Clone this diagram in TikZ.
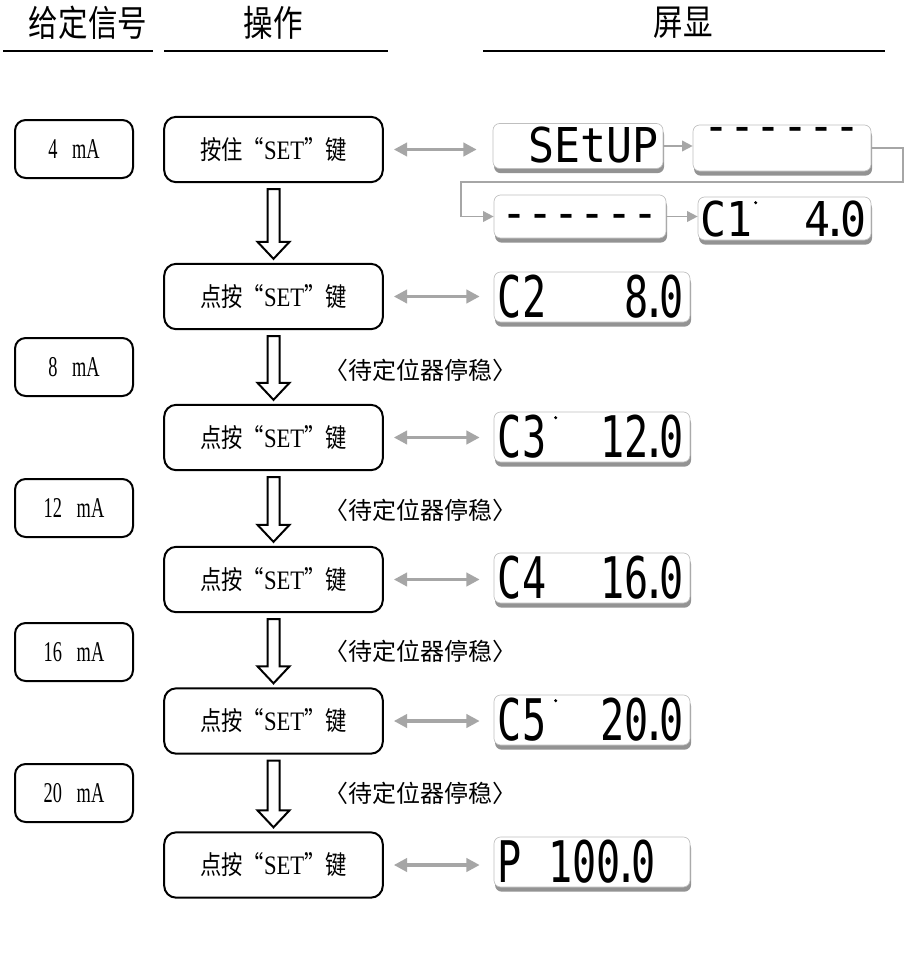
\documentclass[tikz,border=0pt]{standalone}
\usepackage{fontspec}
\setmainfont{Liberation Serif}
\newfontfamily\cjkfont{Noto Sans CJK SC}
\newfontfamily\cjknarrow[FakeStretch=0.82]{Noto Sans CJK SC}
\newfontfamily\sigfont[FakeStretch=0.64]{Liberation Serif}
\newfontfamily\setfont[FakeStretch=0.85]{Liberation Serif}
\newfontfamily\lcdfont[FakeStretch=0.7]{DejaVu Sans Mono}
\newfontfamily\lcdwide[FakeStretch=0.9]{DejaVu Sans Mono}
\usetikzlibrary{arrows.meta,shadows,calc}
\newcommand\lcdpt{\kern-5pt.\kern-5pt}
\newcommand\lcdptw{\kern-6pt.\kern-6pt}
\newcommand\setword{{\setfont\fontsize{20}{21}\selectfont SET}}
\newcommand\hollowarrow[2]{%
  \draw[hollow] ($(#1.south)+(-6,6)$) -- ($(#2.north)+(-6,-21)$) -- ($(#2.north)+(-16,-21)$)
    -- ($(#2.north)+(0,-4)$) -- ($(#2.north)+(16,-21)$) -- ($(#2.north)+(6,-21)$)
    -- ($(#1.south)+(6,6)$) -- cycle;}
\tikzset{
  sig/.style={draw, line width=1.5pt, rounded corners=8pt, minimum width=88.5pt,
    minimum height=43.5pt, inner sep=0pt, font=\sigfont\fontsize{21.5}{23}\selectfont},
  op/.style={draw, line width=1.5pt, rounded corners=9pt, minimum width=164pt,
    minimum height=49pt, inner sep=0pt, font=\cjknarrow\fontsize{19.5}{21}\selectfont},
  hdr/.style={inner sep=0pt, font=\cjknarrow\fontsize{27}{29}\selectfont},
  hline/.style={line width=1.5pt},
  wait/.style={inner sep=0pt, font=\cjkfont\fontsize{18}{20}\selectfont},
  hollow/.style={draw, line width=1.5pt, fill=white, line join=miter},
  garrow/.style={draw=black!35, line width=2.4pt,
    {Triangle[length=10pt,width=10pt]}-{Triangle[length=10pt,width=10pt]}},
  gline/.style={draw=black!35, line width=1.3pt},
  gtip/.style={-{Triangle[length=8pt,width=8pt]}},
  lcd/.style={draw=black!25, line width=0.5pt, fill=white, rounded corners=5pt, inner sep=0pt,
    drop shadow={shadow xshift=0.8pt, shadow yshift=-3.5pt, opacity=0.7, fill=black!60}},
  lcdb/.style={lcd, minimum width=147pt, minimum height=37.5pt},
  lcdtxt/.style={inner sep=0pt, font=\lcdfont\fontsize{43}{43}\selectfont},
  lcdtop/.style={inner sep=0pt, font=\lcdwide\fontsize{36}{36}\selectfont},
  segdot/.style={fill=black, circle, inner sep=0pt, minimum size=2.5pt},
}
\begin{document}
\begin{tikzpicture}[x=0.75pt,y=-0.75pt]
\fill[white] (0,0) rectangle (904,974);
\useasboundingbox (0,0) rectangle (904,974);

% headers
\node[hdr] (h1) at (88,23) {给定信号};
\node[hdr] (h2) at (273,23) {操作};
\node[hdr] (h3) at (683,23) {屏显};
\draw[hline] (3,51) -- (153,51);
\draw[hline] (164,51) -- (388,51);
\draw[hline] (483,51) -- (885,51);

% signal boxes
\node[sig] (s1) at (74,149) {4\hspace{11pt}mA};
\node[sig] (s2) at (74,367) {8\hspace{11pt}mA};
\node[sig] (s3) at (74,508) {12\hspace{11pt}mA};
\node[sig] (s4) at (74,652) {16\hspace{11pt}mA};
\node[sig] (s5) at (74,793) {20\hspace{11pt}mA};

% operation boxes
\node[op] (o1) at (273.5,149.5) {按住“\setword”键};
\node[op] (o2) at (273.5,296.5) {点按“\setword”键};
\node[op] (o3) at (273.5,437.5) {点按“\setword”键};
\node[op] (o4) at (273.5,579.5) {点按“\setword”键};
\node[op] (o5) at (273.5,721) {点按“\setword”键};
\node[op] (o6) at (273.5,865) {点按“\setword”键};

% hollow arrows
\hollowarrow{o1}{o2}
\hollowarrow{o2}{o3}
\hollowarrow{o3}{o4}
\hollowarrow{o4}{o5}
\hollowarrow{o5}{o6}

% waiting texts
\node[wait] (w1) at (420,370) {〈待定位器停稳〉};
\node[wait] (w2) at (420,510) {〈待定位器停稳〉};
\node[wait] (w3) at (420,651) {〈待定位器停稳〉};
\node[wait] (w4) at (420,793) {〈待定位器停稳〉};

% displays, top group
\node[lcd, minimum width=127.5pt, minimum height=33.75pt] (d1) at (578,146) {};
\node[lcd, minimum width=133.5pt, minimum height=34.5pt] (d2) at (782,148) {};
\node[lcd, minimum width=129pt, minimum height=32.25pt] (d3) at (580,216.5) {};
\node[lcd, minimum width=129.75pt, minimum height=32.25pt] (d4) at (784.5,218.5) {};
\node[lcdtop, anchor=base east] (t1) at ($(d1.south east)+(-5,-6)$) {SEtUP};
\node[lcdtop, anchor=base] (t2) at ($(d2.north)+(0,18)$) {------};
\node[lcdtop, anchor=base] (t3) at ($(d3.north)+(0,35)$) {------};
\node[lcdtop, anchor=base west] (t4a) at ($(d4.south west)+(3,-4)$) {C1};
\node[lcdtop, anchor=base east] (t4b) at ($(d4.south east)+(-5,-4)$) {4\lcdptw0};
\node[segdot] (p4) at ($(d4.north west)+(58,6)$) {};

% displays, lower
\node[lcdb] (d5) at (592,297) {};
\node[lcdb] (d6) at (592,437) {};
\node[lcdb] (d7) at (592,578) {};
\node[lcdb] (d8) at (592,720) {};
\node[lcdb] (d9) at (592,862) {};
\node[lcdtxt, anchor=base west] (t5a) at ($(d5.south west)+(4,-5)$) {C2};
\node[lcdtxt, anchor=base east] (t5b) at ($(d5.south east)+(-6,-5)$) {8\lcdpt0};
\node[lcdtxt, anchor=base west] (t6a) at ($(d6.south west)+(4,-5)$) {C3};
\node[lcdtxt, anchor=base east] (t6b) at ($(d6.south east)+(-6,-5)$) {12\lcdpt0};
\node[segdot] (p6) at ($(d6.north west)+(62,6)$) {};
\node[lcdtxt, anchor=base west] (t7a) at ($(d7.south west)+(4,-5)$) {C4};
\node[lcdtxt, anchor=base east] (t7b) at ($(d7.south east)+(-6,-5)$) {16\lcdpt0};
\node[lcdtxt, anchor=base west] (t8a) at ($(d8.south west)+(4,-5)$) {C5};
\node[lcdtxt, anchor=base east] (t8b) at ($(d8.south east)+(-6,-5)$) {20\lcdpt0};
\node[segdot] (p8) at ($(d8.north west)+(62,6)$) {};
\node[lcdtxt, anchor=base west] (t9a) at ($(d9.south west)+(4,-5)$) {P};
\node[lcdtxt, anchor=base east] (t9b) at ($(d9.south east)+(-34,-5)$) {100\lcdpt0};

% gray double arrows
\draw[garrow] ($(o1.east)+(10,0)$) -- ($(o1.east -| d1.west)+(-16,0)$);
\draw[garrow] ($(o2.east)+(10,0)$) -- ($(o2.east -| d5.west)+(-14,0)$);
\draw[garrow] ($(o3.east)+(10,0)$) -- ($(o3.east -| d6.west)+(-14,0)$);
\draw[garrow] ($(o4.east)+(10,0)$) -- ($(o4.east -| d7.west)+(-14,0)$);
\draw[garrow] ($(o5.east)+(10,0)$) -- ($(o5.east -| d8.west)+(-14,0)$);
\draw[garrow] ($(o6.east)+(10,0)$) -- ($(o6.east -| d9.west)+(-14,0)$);

% display sequence connectors
\coordinate (k1) at (903,182);
\coordinate (k2) at (461,182);
\draw[gline, gtip] (d1.east) -- (d1.east -| d2.west);
\draw[gline, gtip] (d2.east) -| (k1) -- (k2) |- (d3.west);
\draw[gline, gtip] (d3.east) -- (d3.east -| d4.west);
\end{tikzpicture}
\end{document}
